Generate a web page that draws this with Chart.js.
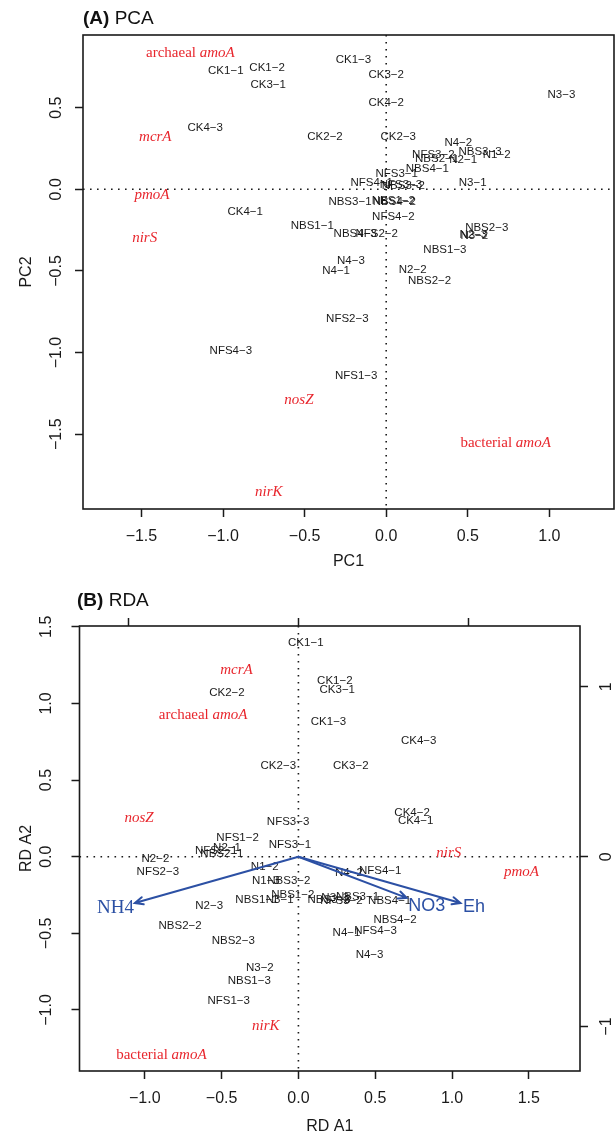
<!DOCTYPE html>
<html>
<head>
<meta charset="utf-8">
<title>PCA and RDA biplots</title>
<script src="https://cdn.jsdelivr.net/npm/chart.js@4.4.1/dist/chart.umd.min.js"></script>
<style>
  html, body { margin: 0; padding: 0; background: #fff; }
  body { width: 616px; height: 1137px; position: relative; overflow: hidden; font-family: "Liberation Sans", Arial, sans-serif; }
  .panel { position: absolute; left: 0; width: 616px; }
  .panel canvas { display: block; }
  #panelA { top: 0; height: 580px; }
  #panelB { top: 580px; height: 557px; }
  .ptitle { position: absolute; font-size: 19px; line-height: 19px; color: #111; white-space: nowrap; }
</style>
</head>
<body>
<div class="panel" id="panelA"><canvas id="pcaChart" width="616" height="580"></canvas></div>
<div class="panel" id="panelB"><canvas id="rdaChart" width="616" height="557"></canvas></div>
<div class="ptitle" style="left:83px; top:8px"><b>(A)</b> PCA</div>
<div class="ptitle" style="left:77px; top:590px"><b>(B)</b> RDA</div>

<script>
// ---- (A) PCA: sample scores ----
const pcaSamples = ['CK1−1', 'CK1−2', 'CK3−1', 'CK1−3', 'CK3−2', 'CK4−2', 'N3−3', 'CK4−3', 'CK2−2', 'CK2−3',
    'N4−2', 'NBS3−3', 'N1−2', 'NFS3−2', 'NBS2−1', 'N2−1', 'NBS4−1', 'NFS3−1', 'NFS4−1', 'NFS3−3',
    'NBS3−2', 'N3−1', 'NBS3−1', 'NBS1−2', 'NBS4−2', 'NFS4−2', 'CK4−1', 'NBS1−1', 'NBS4−3', 'NFS2−2',
    'NBS2−3', 'N2−3', 'N3−2', 'NBS1−3', 'N4−3', 'N4−1', 'N2−2', 'NBS2−2', 'NFS2−3', 'NFS4−3', 'NFS1−3'];
const pcaSampleX = [-0.983, -0.73, -0.723, -0.201, 0.0, 0.0, 1.074, -1.109, -0.375, 0.074,
    0.442, 0.575, 0.677, 0.289, 0.309, 0.472, 0.252, 0.064, -0.089, 0.09,
    0.105, 0.53, -0.222, 0.044, 0.05, 0.044, -0.864, -0.453, -0.19, -0.058,
    0.616, 0.534, 0.54, 0.36, -0.216, -0.307, 0.162, 0.266, -0.238, -0.952, -0.184];
const pcaSampleY = [0.724, 0.741, 0.639, 0.792, 0.70, 0.527, 0.577, 0.375, 0.322, 0.322,
    0.285, 0.23, 0.21, 0.21, 0.184, 0.179, 0.128, 0.092, 0.04, 0.03,
    0.02, 0.037, -0.076, -0.072, -0.078, -0.168, -0.14, -0.225, -0.27, -0.27,
    -0.239, -0.28, -0.283, -0.372, -0.441, -0.5, -0.496, -0.563, -0.792, -0.987, -1.14];

// ---- (A) PCA: gene loadings ----
const pcaGenes = ['archaeal amoA', 'mcrA', 'pmoA', 'nirS', 'nosZ', 'bacterial amoA', 'nirK'];
const pcaGeneX = [-1.20, -1.415, -1.435, -1.48, -0.535, 0.732, -0.719];
const pcaGeneY = [0.833, 0.322, -0.036, -0.30, -1.293, -1.555, -1.856];

const pcaTicksX = [-1.5, -1.0, -0.5, 0.0, 0.5, 1.0];
const pcaTicksY = [-1.5, -1.0, -0.5, 0.0, 0.5];

// ---- (B) RDA: sample scores ----
const rdaSamples = ['CK1−1', 'CK1−2', 'CK3−1', 'CK2−2', 'CK1−3', 'CK4−3', 'CK2−3', 'CK3−2', 'CK4−2', 'CK4−1',
    'NFS3−3', 'NFS1−2', 'NFS3−1', 'NFS2−1', 'N2−1', 'NBS2−1', 'N2−2', 'NFS2−3', 'N1−2', 'N4−2',
    'NFS4−1', 'N1−3', 'NBS3−2', 'NBS1−2', 'NBS1−1', 'N3−1', 'NBS3−3', 'N3−3', 'NFS3−2', 'NBS3−1',
    'NBS4−1', 'N2−3', 'NBS2−2', 'NBS4−2', 'N4−1', 'NFS4−3', 'NBS2−3', 'N4−3', 'N3−2', 'NBS1−3', 'NFS1−3'];
const rdaSampleX = [0.048, 0.237, 0.253, -0.465, 0.196, 0.783, -0.131, 0.341, 0.74, 0.763,
    -0.067, -0.396, -0.055, -0.535, -0.465, -0.498, -0.931, -0.915, -0.219, 0.329,
    0.532, -0.212, -0.062, -0.037, -0.27, -0.122, 0.2, 0.24, 0.28, 0.385,
    0.594, -0.581, -0.77, 0.629, 0.313, 0.502, -0.424, 0.463, -0.251, -0.32, -0.454];
const rdaSampleY = [1.395, 1.145, 1.091, 1.072, 0.879, 0.753, 0.594, 0.594, 0.289, 0.234,
    0.226, 0.126, 0.076, 0.041, 0.061, 0.017, -0.011, -0.1, -0.069, -0.102,
    -0.095, -0.16, -0.16, -0.247, -0.28, -0.28, -0.283, -0.27, -0.285, -0.262,
    -0.291, -0.323, -0.449, -0.41, -0.497, -0.486, -0.551, -0.64, -0.725, -0.813, -0.941];

// ---- (B) RDA: genes and environmental vectors ----
const rdaGenes = ['mcrA', 'archaeal amoA', 'nosZ', 'nirS', 'pmoA', 'nirK', 'bacterial amoA'];
const rdaGeneX = [-0.403, -0.62, -1.037, 0.979, 1.452, -0.212, -0.892];
const rdaGeneY = [1.217, 0.924, 0.249, 0.024, -0.1, -1.108, -1.291];

const rdaEnv = ['NH4', 'NO3', 'Eh'];
const rdaEnvX = [-1.065, 0.705, 1.055];
const rdaEnvY = [-0.302, -0.269, -0.302];
const rdaEnvLabelX = [-1.191, 0.836, 1.143];
const rdaEnvLabelY = [-0.338, -0.323, -0.328];

const rdaTicksX = [-1.0, -0.5, 0.0, 0.5, 1.0, 1.5];
const rdaTicksY = [-1.0, -0.5, 0.0, 0.5, 1.0, 1.5];
const rdaBiplotTicks = [-1, 0, 1];
const rdaBiplotScale = 1.108;   // main-axis units per biplot-axis unit

// ---- styling ----
const FONT_SANS = '"Liberation Sans", Arial, sans-serif';
const FONT_SERIF = '"Liberation Serif", "Times New Roman", serif';
const INK = '#1a1a1a';
const GENE_RED = '#e8262d';
const ENV_BLUE = '#2c50a4';
const SERIF_ENV = ['NH4'];

Chart.defaults.font.family = FONT_SANS;
Chart.defaults.color = INK;

const fmtTick = (v, digits) => Number(v).toFixed(digits).replace('-', '\u2212');
const points = (xs, ys) => xs.map((x, i) => ({ x, y: ys[i] }));

function tickGrid() {
    return { drawOnChartArea: false, drawTicks: true, tickLength: 8, tickWidth: 1.5, tickColor: INK };
}

function drawName(ctx, kind, name, px, py) {
    ctx.save();
    ctx.textBaseline = 'middle';
    if (kind === 'sample') {
        ctx.font = `11.5px ${FONT_SANS}`;
        ctx.fillStyle = INK;
        ctx.textAlign = 'center';
        ctx.fillText(name, px, py);
    } else if (kind === 'gene') {
        // "archaeal amoA": first word upright, gene symbol italic
        const cut = name.indexOf(' ');
        const plain = cut < 0 ? '' : name.slice(0, cut + 1);
        const ital = cut < 0 ? name : name.slice(cut + 1);
        const fPlain = `15px ${FONT_SERIF}`;
        const fItal = `italic 15px ${FONT_SERIF}`;
        ctx.font = fPlain;
        const w1 = plain ? ctx.measureText(plain).width : 0;
        ctx.font = fItal;
        const w2 = ctx.measureText(ital).width;
        const left = px - (w1 + w2) / 2;
        ctx.textAlign = 'left';
        ctx.fillStyle = GENE_RED;
        if (plain) { ctx.font = fPlain; ctx.fillText(plain, left, py); }
        ctx.font = fItal;
        ctx.fillText(ital, left + w1, py);
    } else if (kind === 'env') {
        ctx.font = SERIF_ENV.includes(name) ? `19px ${FONT_SERIF}` : `18px ${FONT_SANS}`;
        ctx.fillStyle = ENV_BLUE;
        ctx.textAlign = 'center';
        ctx.fillText(name, px, py);
    }
    ctx.restore();
}

function drawArrow(ctx, x0, y0, x1, y1) {
    const ang = Math.atan2(y1 - y0, x1 - x0);
    const head = 9;
    ctx.save();
    ctx.strokeStyle = ENV_BLUE;
    ctx.lineWidth = 2;
    ctx.lineCap = 'round';
    ctx.beginPath();
    ctx.moveTo(x0, y0);
    ctx.lineTo(x1, y1);
    ctx.moveTo(x1 - head * Math.cos(ang - 0.42), y1 - head * Math.sin(ang - 0.42));
    ctx.lineTo(x1, y1);
    ctx.lineTo(x1 - head * Math.cos(ang + 0.42), y1 - head * Math.sin(ang + 0.42));
    ctx.stroke();
    ctx.restore();
}

const biplotPlugin = {
    id: 'biplot',
    beforeDatasetsDraw(chart) {
        // dotted zero lines
        const { ctx, chartArea: a, scales: { x, y } } = chart;
        const x0 = x.getPixelForValue(0);
        const y0 = y.getPixelForValue(0);
        ctx.save();
        ctx.strokeStyle = INK;
        ctx.lineWidth = 1.6;
        ctx.setLineDash([1.6, 5.4]);
        ctx.beginPath();
        ctx.moveTo(a.left, y0); ctx.lineTo(a.right, y0);
        ctx.moveTo(x0, a.top); ctx.lineTo(x0, a.bottom);
        ctx.stroke();
        ctx.restore();
    },
    afterDatasetsDraw(chart) {
        const { ctx, chartArea: a, scales: { x, y } } = chart;
        const x0 = x.getPixelForValue(0);
        const y0 = y.getPixelForValue(0);
        chart.data.datasets.forEach((ds, di) => {
            const els = chart.getDatasetMeta(di).data;
            els.forEach((el, i) => {
                if (ds.kind === 'arrow') drawArrow(ctx, x0, y0, el.x, el.y);
                else drawName(ctx, ds.kind, ds.names[i], el.x, el.y);
            });
        });
        // plot frame
        ctx.save();
        ctx.strokeStyle = INK;
        ctx.lineWidth = 1.6;
        ctx.strokeRect(a.left, a.top, a.right - a.left, a.bottom - a.top);
        ctx.restore();
    }
};

function hiddenSet(kind, xs, ys, names) {
    return { kind, names, data: points(xs, ys), pointRadius: 0, pointHoverRadius: 0 };
}

// ---- (A) PCA ----
const pcaX = { min: -1.858, max: 1.396 };
const pcaY = { min: -1.958, max: 0.945 };

new Chart(document.getElementById('pcaChart'), {
    type: 'scatter',
    data: {
        datasets: [
            hiddenSet('sample', pcaSampleX, pcaSampleY, pcaSamples),
            hiddenSet('gene', pcaGeneX, pcaGeneY, pcaGenes)
        ]
    },
    options: {
        responsive: false,
        devicePixelRatio: 1,
        animation: false,
        events: [],
        layout: { padding: { top: 35, right: 2, left: 0, bottom: 0 } },
        plugins: { legend: { display: false }, tooltip: { enabled: false } },
        scales: {
            x: {
                type: 'linear', position: 'bottom', min: pcaX.min, max: pcaX.max,
                afterBuildTicks: s => { s.ticks = pcaTicksX.map(v => ({ value: v })); },
                afterFit: s => { s.height = 71; },
                grid: tickGrid(),
                border: { display: false },
                ticks: { color: INK, font: { size: 16 }, padding: 10, autoSkip: false, maxRotation: 0, callback: v => fmtTick(v, 1) },
                title: { display: true, text: 'PC1', color: INK, font: { size: 16 }, padding: { top: 0, bottom: 8.5 } }
            },
            y: {
                type: 'linear', position: 'left', min: pcaY.min, max: pcaY.max,
                afterBuildTicks: s => { s.ticks = pcaTicksY.map(v => ({ value: v })); },
                afterFit: s => { s.width = 83; },
                grid: tickGrid(),
                border: { display: false },
                ticks: { color: INK, font: { size: 16 }, padding: 2.5, autoSkip: false, minRotation: 90, maxRotation: 90, crossAlign: 'center', callback: v => fmtTick(v, 1) },
                title: { display: true, text: 'PC2', color: INK, font: { size: 16 }, padding: { top: 16.5, bottom: 0 } }
            }
        }
    },
    plugins: [biplotPlugin]
});

// ---- (B) RDA ----
const rdaX = { min: -1.425, max: 1.833 };
const rdaY = { min: -1.398, max: 1.505 };

new Chart(document.getElementById('rdaChart'), {
    type: 'scatter',
    data: {
        datasets: [
            hiddenSet('sample', rdaSampleX, rdaSampleY, rdaSamples),
            hiddenSet('gene', rdaGeneX, rdaGeneY, rdaGenes),
            hiddenSet('arrow', rdaEnvX, rdaEnvY, rdaEnv),
            hiddenSet('env', rdaEnvLabelX, rdaEnvLabelY, rdaEnv)
        ]
    },
    options: {
        responsive: false,
        devicePixelRatio: 1,
        animation: false,
        events: [],
        layout: { padding: 0 },
        plugins: { legend: { display: false }, tooltip: { enabled: false } },
        scales: {
            x: {
                type: 'linear', position: 'bottom', min: rdaX.min, max: rdaX.max,
                afterBuildTicks: s => { s.ticks = rdaTicksX.map(v => ({ value: v })); },
                afterFit: s => { s.height = 66; },
                grid: tickGrid(),
                border: { display: false },
                ticks: { color: INK, font: { size: 16 }, padding: 9.5, autoSkip: false, maxRotation: 0, callback: v => fmtTick(v, 1) },
                title: { display: true, text: 'RD A1', color: INK, font: { size: 16 }, padding: { top: 0, bottom: 0.5 } }
            },
            y: {
                type: 'linear', position: 'left', min: rdaY.min, max: rdaY.max,
                afterBuildTicks: s => { s.ticks = rdaTicksY.map(v => ({ value: v })); },
                afterFit: s => { s.width = 79.5; },
                grid: tickGrid(),
                border: { display: false },
                ticks: { color: INK, font: { size: 16 }, padding: 9.5, autoSkip: false, minRotation: 90, maxRotation: 90, crossAlign: 'center', callback: v => fmtTick(v, 1) },
                title: { display: true, text: 'RD A2', color: INK, font: { size: 16 }, padding: { top: 16.5, bottom: 0 } }
            },
            x2: {
                type: 'linear', position: 'top',
                min: rdaX.min / rdaBiplotScale, max: rdaX.max / rdaBiplotScale,
                afterBuildTicks: s => { s.ticks = rdaBiplotTicks.map(v => ({ value: v })); },
                afterFit: s => { s.height = 46; },
                grid: tickGrid(),
                border: { display: false },
                ticks: { display: false }
            },
            y2: {
                type: 'linear', position: 'right',
                min: rdaY.min / rdaBiplotScale, max: rdaY.max / rdaBiplotScale,
                afterBuildTicks: s => { s.ticks = rdaBiplotTicks.map(v => ({ value: v })); },
                afterFit: s => { s.width = 36; },
                grid: tickGrid(),
                border: { display: false },
                ticks: { color: INK, font: { size: 16 }, padding: 9.5, autoSkip: false, minRotation: 90, maxRotation: 90, crossAlign: 'center', callback: v => fmtTick(v, 0) }
            }
        }
    },
    plugins: [biplotPlugin]
});
</script>
</body>
</html>
